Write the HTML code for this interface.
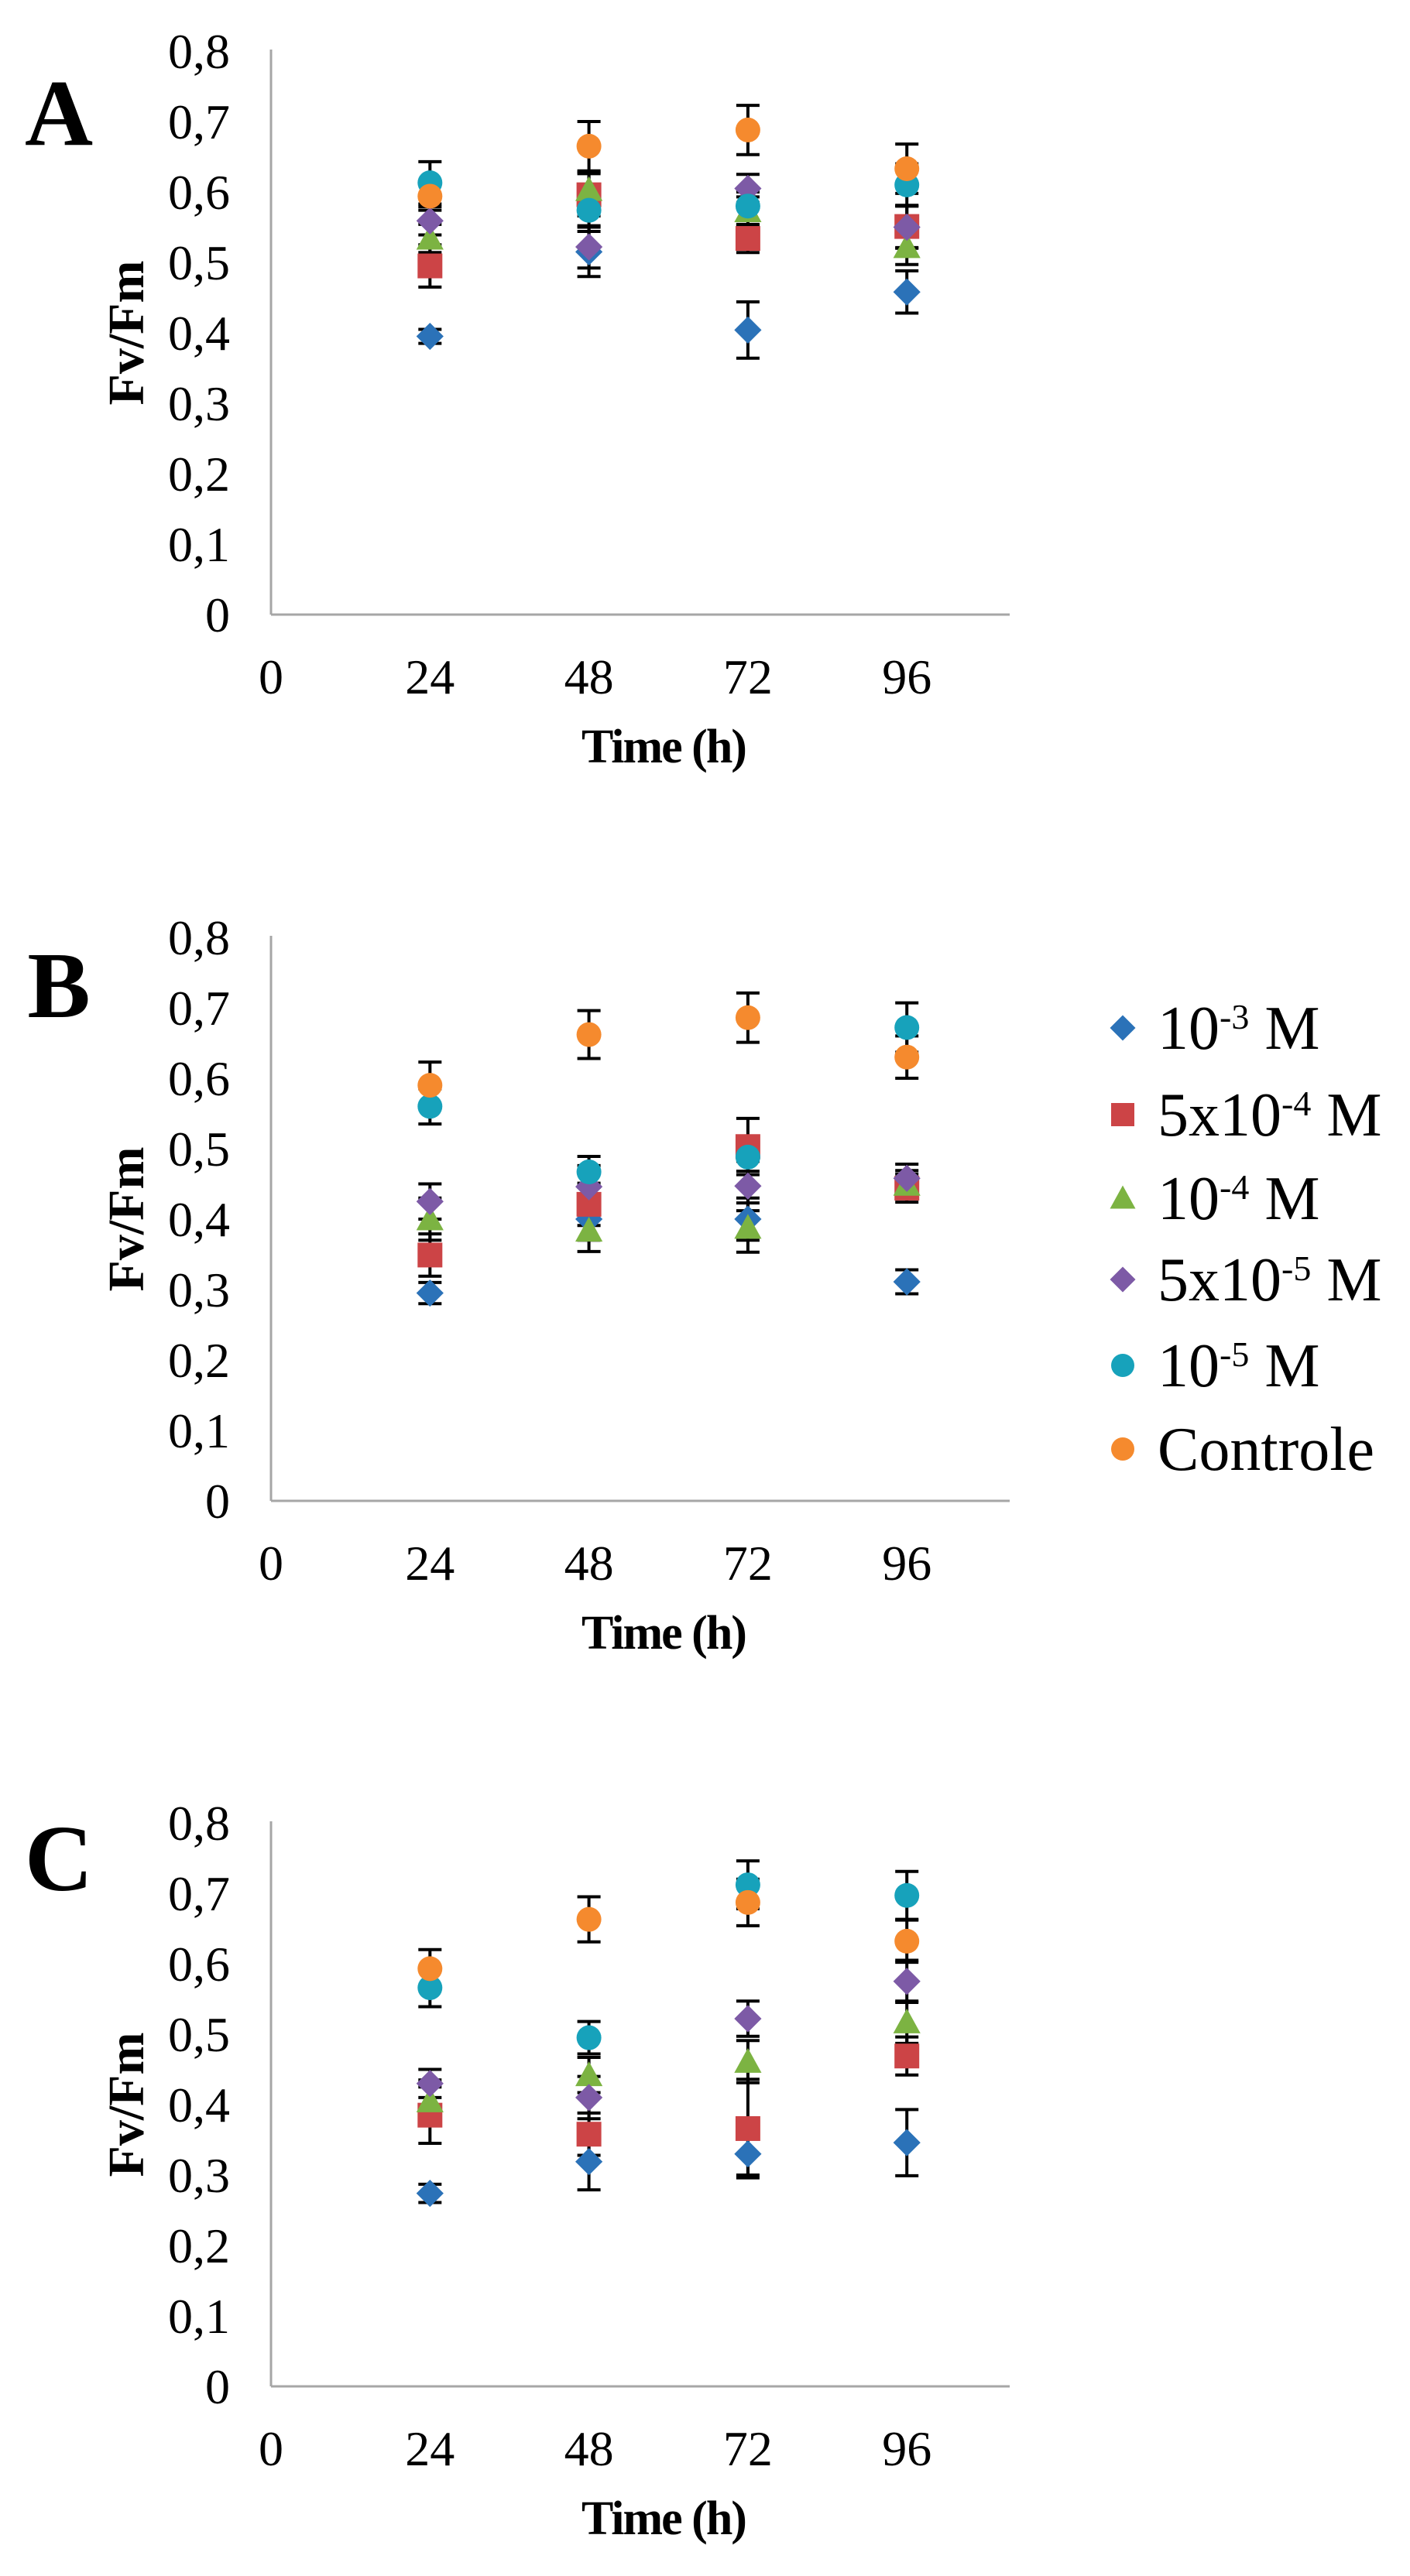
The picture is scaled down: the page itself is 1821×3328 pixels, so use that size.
<!DOCTYPE html>
<html><head><meta charset="utf-8"><style>
html,body{margin:0;padding:0;background:#fff;}
svg{display:block;}
text, tspan{font-family:"Liberation Serif",serif;fill:#000;}
</style></head><body>
<svg id="fig" width="1821" height="3328" viewBox="0 0 1821 3328" xmlns="http://www.w3.org/2000/svg"></svg>
<script>
const categories = [24, 48, 72, 96];
const seriesNames = ["10-3 M", "5x10-4 M", "10-4 M", "5x10-5 M", "10-5 M", "Controle"];
const yTicks = ["0","0,1","0,2","0,3","0,4","0,5","0,6","0,7","0,8"];
const xTicks = [0, 24, 48, 72, 96];
// Panel A values
const aBlue   = [0.395, 0.515, 0.404, 0.458];
const aRed    = [0.495, 0.596, 0.534, 0.551];
const aGreen  = [0.534, 0.603, 0.573, 0.522];
const aPurple = [0.559, 0.522, 0.605, 0.550];
const aTeal   = [0.613, 0.574, 0.580, 0.610];
const aOrange = [0.594, 0.665, 0.688, 0.633];
const aErr    = [[0.010,0.035,0.040,0.030],[0.030,0.030,0.020,0.030],[0.020,0.025,0.020,0.025],[0.020,0.030,0.020,0.030],[0.030,0.030,0.020,0.030],[0.020,0.035,0.035,0.035]];
// Panel B values
const bBlue   = [0.295, 0.400, 0.400, 0.311];
const bRed    = [0.349, 0.421, 0.503, 0.444];
const bGreen  = [0.400, 0.384, 0.388, 0.449];
const bPurple = [0.425, 0.446, 0.447, 0.458];
const bTeal   = [0.560, 0.467, 0.488, 0.672];
const bOrange = [0.590, 0.662, 0.686, 0.630];
const bErr    = [[0.015,0.030,0.030,0.017],[0.030,0.030,0.040,0.020],[0.030,0.030,0.035,0.020],[0.025,0.030,0.035,0.020],[0.025,0.022,0.020,0.035],[0.033,0.034,0.035,0.030]];
// Panel C values
const cBlue   = [0.274, 0.319, 0.330, 0.346];
const cRed    = [0.385, 0.358, 0.366, 0.469];
const cGreen  = [0.405, 0.442, 0.461, 0.517];
const cPurple = [0.430, 0.410, 0.522, 0.575];
const cTeal   = [0.566, 0.495, 0.712, 0.697];
const cOrange = [0.593, 0.663, 0.687, 0.632];
const cErr    = [[0.013,0.040,0.030,0.047],[0.040,0.030,0.070,0.027],[0.030,0.025,0.030,0.030],[0.020,0.030,0.025,0.030],[0.027,0.023,0.034,0.034],[0.027,0.032,0.033,0.030]];

const colors = ["#2b72b8","#cc4446","#7cb342","#7d5aa6","#17a2bb","#f58a2e"];
const shapes = ["diamond","square","triangle","diamond","circle","circle"];
const panels = [
  {label:"A", zeroY:794, letterY:145, data:[aBlue,aRed,aGreen,aPurple,aTeal,aOrange], err:aErr},
  {label:"B", zeroY:1939, letterY:1272, data:[bBlue,bRed,bGreen,bPurple,bTeal,bOrange], err:bErr},
  {label:"C", zeroY:3083, letterY:2400, data:[cBlue,cRed,cGreen,cPurple,cTeal,cOrange], err:cErr}
];
const NS="http://www.w3.org/2000/svg";
const svg=document.getElementById('fig');
const X0=350, XSTEP=205.3/24, XEND=1304, YUNIT=910;
function xs(h){return X0+h*XSTEP;}
function mk(tag,attrs,parent){const e=document.createElementNS(NS,tag);for(const k in attrs)e.setAttribute(k,attrs[k]);(parent||svg).appendChild(e);return e;}
function marker(g,shape,cx,cy,color,s){
  let e;
  if(shape==="diamond") e=mk('polygon',{points:`${cx},${cy-s*0.55} ${cx+s*0.55},${cy} ${cx},${cy+s*0.55} ${cx-s*0.55},${cy}`,fill:color},g);
  else if(shape==="square") e=mk('rect',{x:cx-s/2,y:cy-s/2,width:s,height:s,fill:color},g);
  else if(shape==="triangle") e=mk('polygon',{points:`${cx},${cy-s*0.55} ${cx+s*0.55},${cy+s*0.45} ${cx-s*0.55},${cy+s*0.45}`,fill:color},g);
  else e=mk('ellipse',{cx:cx,cy:cy,rx:s/2,ry:s/2,fill:color},g);
  return e;
}
panels.forEach((p,pi)=>{
  const ys=v=>p.zeroY-v*YUNIT;
  const g=mk('g',{});
  
  
  const lt=mk('text',{x:76,y:p.letterY+42,'font-size':122,'font-weight':'bold','text-anchor':'middle'},g);
  lt.textContent=p.label;
  
  
  const ya=mk('line',{x1:X0,y1:ys(0.8)-2,x2:X0,y2:p.zeroY,stroke:'#a6a6a6','stroke-width':3},g);
  
  
  const xa=mk('line',{x1:X0,y1:p.zeroY,x2:XEND,y2:p.zeroY,stroke:'#a6a6a6','stroke-width':3},g);
  
  
  yTicks.forEach((t,i)=>{
    const e=mk('text',{x:297,y:ys(i*0.1)+22,'font-size':64,'text-anchor':'end'},g);
    e.textContent=t;
    
    
  });
  xTicks.forEach(t=>{
    const e=mk('text',{x:xs(t),y:p.zeroY+102,'font-size':64,'text-anchor':'middle'},g);
    e.textContent=t;
    
    
  });
  const xt=mk('text',{x:857,y:p.zeroY+191,'font-size':62,'font-weight':'bold','text-anchor':'middle','letter-spacing':-2},g);
  xt.textContent="Time (h)";
  
  
  const yt=mk('text',{x:0,y:0,'font-size':66,'font-weight':'bold','text-anchor':'middle',transform:`translate(185,${p.zeroY-364}) rotate(-90)`},g);
  yt.textContent="Fv/Fm";
  
  
  p.data.forEach((vals,si)=>{
    vals.forEach((v,ci)=>{
      const cx=xs(categories[ci]);
      const e=p.err[si][ci];
      const eb=mk('path',{d:`M${cx},${ys(v+e)}V${ys(v-e)}M${cx-15},${ys(v+e)}H${cx+15}M${cx-15},${ys(v-e)}H${cx+15}`,stroke:'#000','stroke-width':4,fill:'none'},g);
      
      
    });
  });
  p.data.forEach((vals,si)=>{
    vals.forEach((v,ci)=>{
      const m=marker(g,shapes[si],xs(categories[ci]),ys(v),colors[si],32);
      
      
    });
  });
});
// legend
const legendY=[1328,1440,1548,1653,1764,1872];
const legendMain=["10","5x10","10","5x10","10","Controle"];
const legendSup=["-3","-4","-4","-5","-5",""];
const lg=mk('g',{});


seriesNames.forEach((n,i)=>{
  const eg=mk('g',{},lg);
  
  
  marker(eg,shapes[i],1450,legendY[i],colors[i],30);
  const t=mk('text',{x:1495,y:legendY[i]+27,'font-size':80,'font-family':'Liberation Serif, serif'},eg);
  const t1=mk('tspan',{},t); t1.textContent=legendMain[i];
  if(legendSup[i]){
    const t2=mk('tspan',{dy:-26,'font-size':46},t); t2.textContent=legendSup[i];
    const t3=mk('tspan',{dy:26},t); t3.textContent=" M";
  }
});
</script>
</body></html>
